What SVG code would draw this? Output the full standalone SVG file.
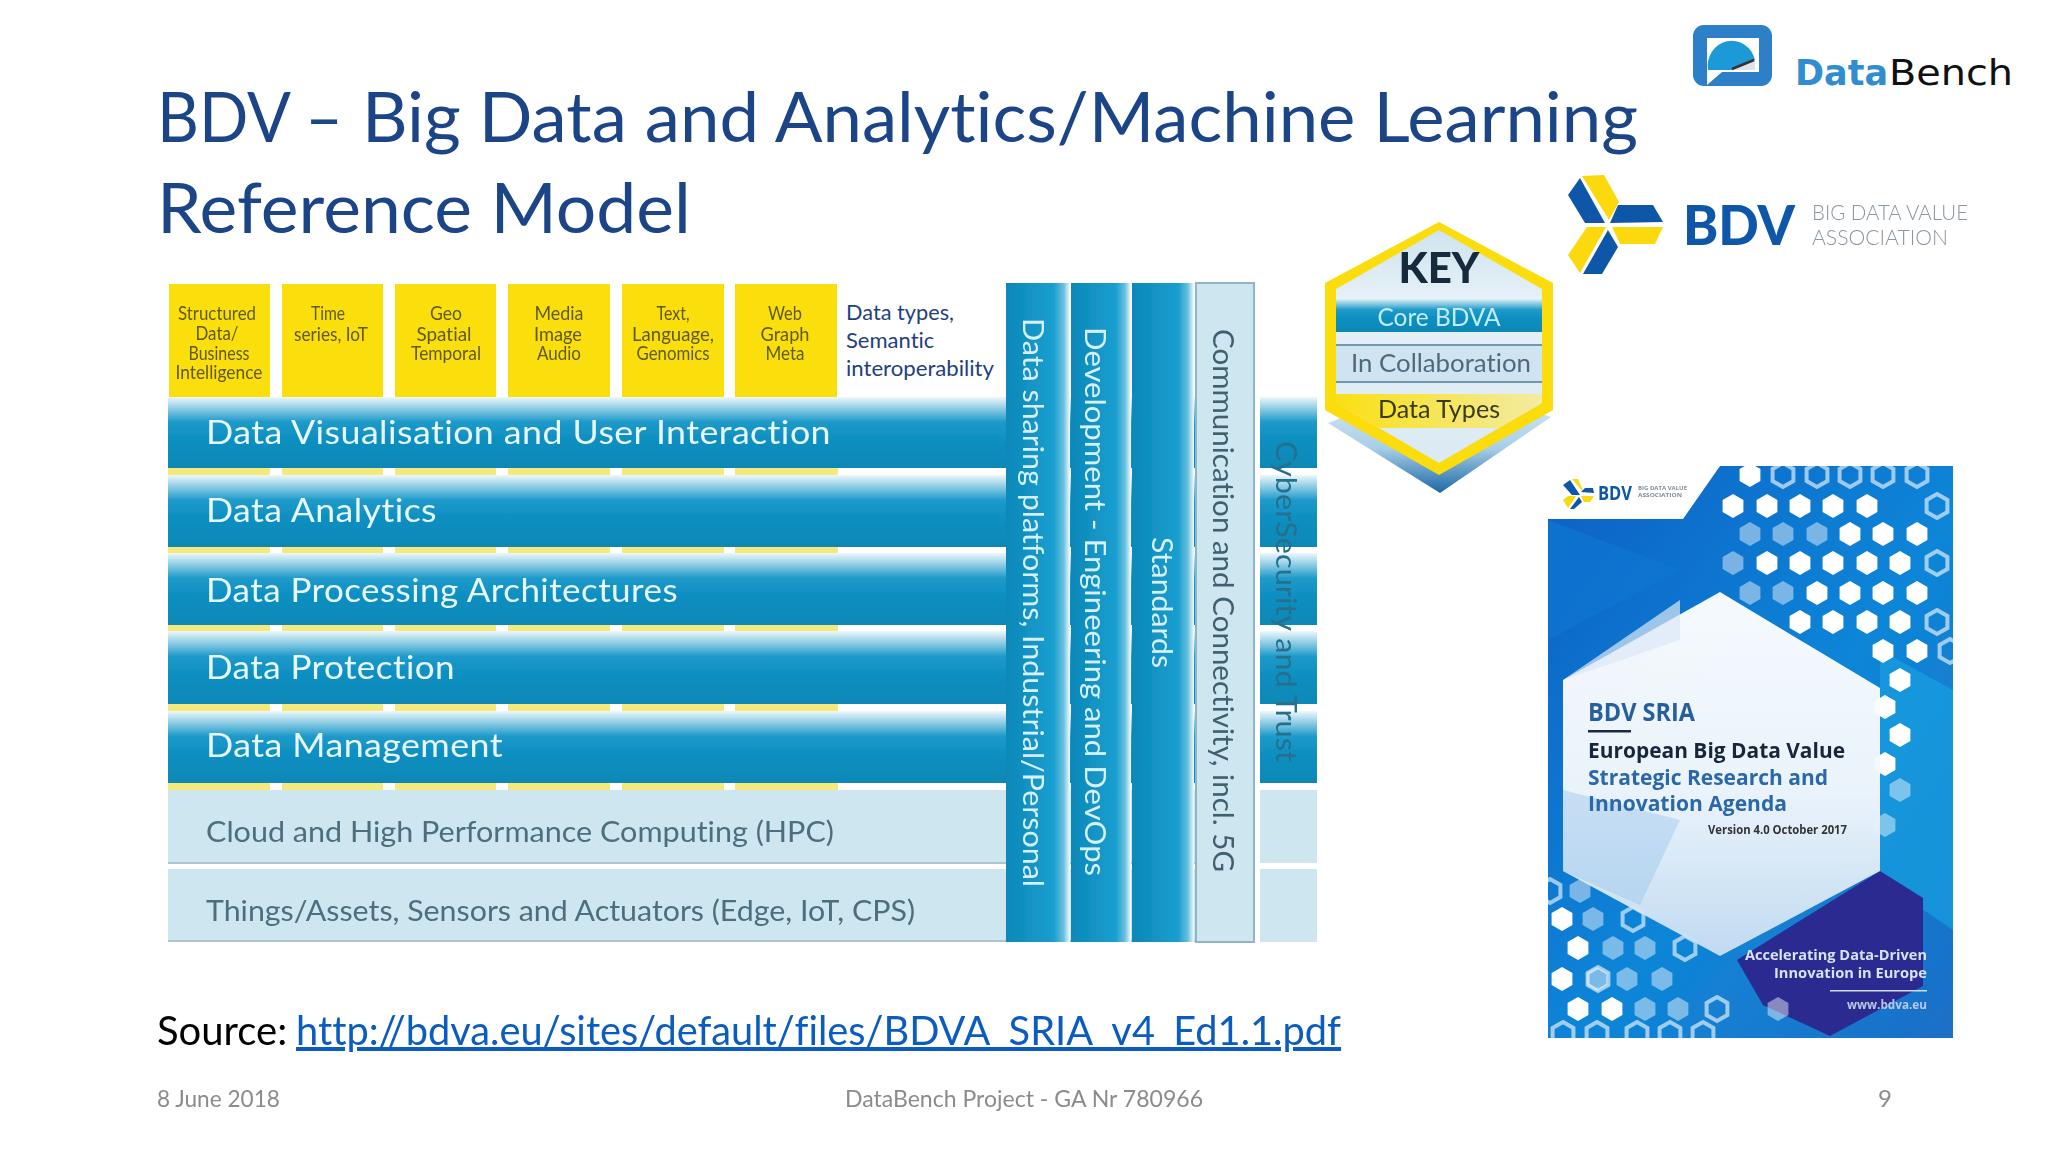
<svg xmlns="http://www.w3.org/2000/svg" width="2048" height="1152" viewBox="0 0 2048 1152">
<style>
text{font-family:"Lato","Liberation Sans",sans-serif;font-variant-ligatures:none}
.title{font-size:70px;fill:#1c4587}
.ty{font-size:19px;fill:#5f5a1c;text-anchor:middle}
.bt{font-size:33px;fill:#e8f7fb;letter-spacing:.4px}
.lt{font-size:29px;fill:#4d6e7d}
.vw{font-size:29px;fill:#d6f0f8}
.foot{font-size:24px;fill:#8b8b8b}
.note{font-size:22px;fill:#1f3f7f}
.ck{font-family:"Open Sans","Liberation Sans",sans-serif;font-weight:700}
.band{fill:url(#gBand)}
.light{fill:#cde6f0}
.col{fill:url(#gCol)}
.w{fill:#fff}
.f{fill:#fff;opacity:.45}
.r{fill:none;stroke:#fff;stroke-width:4;opacity:.6}
.soft{filter:url(#blur)}
</style>
<defs>
<filter id="blur" x="-2%" y="-2%" width="104%" height="104%"><feGaussianBlur stdDeviation="0.7"/></filter>
<linearGradient id="gBand" x1="0" y1="0" x2="0" y2="1">
<stop offset="0" stop-color="#eef8fb"/><stop offset=".35" stop-color="#1d9aca"/><stop offset=".6" stop-color="#0d8fc1"/><stop offset="1" stop-color="#0a88b6"/>
</linearGradient>
<linearGradient id="gCol" x1="0" y1="0" x2="1" y2="0">
<stop offset="0" stop-color="#0b88b8"/><stop offset=".75" stop-color="#1a9fd0"/><stop offset=".9" stop-color="#69c0de"/><stop offset="1" stop-color="#f4fbfd"/>
</linearGradient>
<linearGradient id="gKeyIn" x1="0" y1="0" x2="0" y2="1">
<stop offset="0" stop-color="#cfe3ef"/><stop offset=".3" stop-color="#e6f1f7"/><stop offset="1" stop-color="#dbeaf3"/>
</linearGradient>
<linearGradient id="gKeyShadow" x1="0" y1="0" x2="0" y2="1">
<stop offset="0" stop-color="#e9f1f6"/><stop offset=".6" stop-color="#a8cfe8"/><stop offset="1" stop-color="#1c68a6"/>
</linearGradient>
<linearGradient id="gKeyY" x1="0" y1="0" x2="1" y2="0">
<stop offset="0" stop-color="#fadf0a"/><stop offset="1" stop-color="#f2ecab"/>
</linearGradient>
<linearGradient id="gCover" x1="0" y1="0" x2="1" y2="1">
<stop offset="0" stop-color="#0c60c4"/><stop offset=".55" stop-color="#0f86d8"/><stop offset="1" stop-color="#1b6fc6"/>
</linearGradient>
<linearGradient id="gHex" x1="0" y1="0" x2="0" y2="1">
<stop offset="0" stop-color="#ffffff"/><stop offset=".55" stop-color="#f4f8fc"/><stop offset="1" stop-color="#c8def2"/>
</linearGradient>
<polygon id="hx" points="0,-12 10.4,-6 10.4,6 0,12 -10.4,6 -10.4,-6"/>
<clipPath id="cCover"><rect x="1548" y="466" width="405" height="572"/></clipPath>
<clipPath id="cKey"><polygon points="1439,230 1542,289 1542,403 1439,463 1336,403 1336,289"/></clipPath>
</defs>
<rect width="2048" height="1152" fill="#fff"/>

<g id="title">
<text class="title" x="157" y="142" textLength="186" lengthAdjust="spacingAndGlyphs">BDV –</text>
<text class="title" x="362" y="142" textLength="1276" lengthAdjust="spacingAndGlyphs">Big Data and Analytics/Machine Learning</text>
<text class="title" x="157" y="233" textLength="534" lengthAdjust="spacingAndGlyphs">Reference Model</text>
</g>

<g id="logo-databench">
<rect x="1693" y="25" width="79" height="61" rx="11" fill="#2d80c8"/>
<rect x="1707" y="38" width="52" height="34" fill="#fff"/>
<path d="M1708,70 A24,25 0 0 1 1755,60 L1732,70 Z" fill="#1c9ad8"/>
<path d="M1732,70 L1755,60 L1755,70 Z" fill="#dfe3e6"/>
<path d="M1732,69 L1754,60" stroke="#333" stroke-width="2.5" fill="none"/>
<path d="M1707,85 L1707,70 L1722,72 Z" fill="#fff"/>
<text x="1795" y="85" font-size="36" font-weight="700" fill="#2f8dd0" style="font-family:'DejaVu Sans',sans-serif" textLength="93" lengthAdjust="spacingAndGlyphs">Data</text>
<text x="1889" y="85" font-size="36" fill="#111" style="font-family:'DejaVu Sans',sans-serif" textLength="124" lengthAdjust="spacingAndGlyphs">Bench</text>
</g>

<g id="logo-bdv" class="soft">
<polygon points="1568,195 1580,178 1605,223 1585,223" fill="#0b56a8"/>
<polygon points="1582,176 1604,175 1619,202 1609,220" fill="#fbd90a"/>
<polygon points="1610,223 1618,205 1653,205 1663,222" fill="#0b56a8"/>
<polygon points="1612,227 1663,227 1655,244 1620,244" fill="#fbd90a"/>
<polygon points="1608,230 1618,247 1602,274 1583,274" fill="#0b56a8"/>
<polygon points="1606,227 1580,273 1568,255 1587,227" fill="#fbd90a"/>
<text x="1683" y="245" font-size="56" font-weight="900" fill="#0b56a8" textLength="112" lengthAdjust="spacingAndGlyphs">BDV</text>
<text x="1812" y="220" font-size="21" fill="#8a96a0" font-weight="300" textLength="156" lengthAdjust="spacingAndGlyphs">BIG DATA VALUE</text>
<text x="1812" y="245" font-size="21" fill="#8a96a0" font-weight="300" textLength="136" lengthAdjust="spacingAndGlyphs">ASSOCIATION</text>
</g>

<g id="data-types">
<g class="soft">
<g fill="#fbdf0c">
<rect x="169" y="284" width="101" height="113"/>
<rect x="282" y="284" width="101" height="113"/>
<rect x="395" y="284" width="101" height="113"/>
<rect x="508" y="284" width="102" height="113"/>
<rect x="622" y="284" width="102" height="113"/>
<rect x="735" y="284" width="102" height="113"/>
</g>
<g fill="#f6e97c">
<rect x="168" y="467" width="670" height="9"/>
<rect x="168" y="546" width="670" height="8"/>
<rect x="168" y="624" width="670" height="8"/>
<rect x="168" y="703" width="670" height="9"/>
<rect x="168" y="782" width="670" height="8"/>
</g>
<g fill="#fff">
<rect x="270" y="467" width="12" height="323"/>
<rect x="383" y="467" width="12" height="323"/>
<rect x="496" y="467" width="12" height="323"/>
<rect x="610" y="467" width="12" height="323"/>
<rect x="724" y="467" width="11" height="323"/>
</g>
<g id="type-structured"><text class="ty" x="217" y="320" textLength="78" lengthAdjust="spacingAndGlyphs">Structured</text><text class="ty" x="217" y="340" textLength="43" lengthAdjust="spacingAndGlyphs">Data/</text><text class="ty" x="219" y="360" textLength="61" lengthAdjust="spacingAndGlyphs">Business</text><text class="ty" x="219" y="379" textLength="87" lengthAdjust="spacingAndGlyphs">Intelligence</text></g>
<g id="type-time"><text class="ty" x="328" y="320" textLength="34" lengthAdjust="spacingAndGlyphs">Time</text><text class="ty" x="331" y="341" textLength="74" lengthAdjust="spacingAndGlyphs">series, IoT</text></g>
<g id="type-geo"><text class="ty" x="446" y="320" textLength="32" lengthAdjust="spacingAndGlyphs">Geo</text><text class="ty" x="444" y="341" textLength="55" lengthAdjust="spacingAndGlyphs">Spatial</text><text class="ty" x="446" y="360" textLength="70" lengthAdjust="spacingAndGlyphs">Temporal</text></g>
<g id="type-media"><text class="ty" x="559" y="320" textLength="49" lengthAdjust="spacingAndGlyphs">Media</text><text class="ty" x="558" y="341" textLength="48" lengthAdjust="spacingAndGlyphs">Image</text><text class="ty" x="559" y="360" textLength="44" lengthAdjust="spacingAndGlyphs">Audio</text></g>
<g id="type-text"><text class="ty" x="673" y="320" textLength="33" lengthAdjust="spacingAndGlyphs">Text,</text><text class="ty" x="673" y="341" textLength="82" lengthAdjust="spacingAndGlyphs">Language,</text><text class="ty" x="673" y="360" textLength="73" lengthAdjust="spacingAndGlyphs">Genomics</text></g>
<g id="type-web"><text class="ty" x="785" y="320" textLength="34" lengthAdjust="spacingAndGlyphs">Web</text><text class="ty" x="785" y="341" textLength="49" lengthAdjust="spacingAndGlyphs">Graph</text><text class="ty" x="785" y="360" textLength="39" lengthAdjust="spacingAndGlyphs">Meta</text></g>
</g>
<text class="note" x="846" y="320" textLength="108" lengthAdjust="spacingAndGlyphs">Data types,</text>
<text class="note" x="846" y="348">Semantic</text>
<text class="note" x="846" y="376" textLength="148" lengthAdjust="spacingAndGlyphs">interoperability</text>
</g>

<g id="layers" class="soft">
<g id="layer-visualisation"><rect class="band" x="168" y="397" width="1086" height="71"/><text class="bt" x="206" y="444" textLength="625" lengthAdjust="spacingAndGlyphs">Data Visualisation and User Interaction</text></g>
<g id="layer-analytics"><rect class="band" x="168" y="475" width="1086" height="72"/><text class="bt" x="206" y="522" textLength="231" lengthAdjust="spacingAndGlyphs">Data Analytics</text></g>
<g id="layer-processing"><rect class="band" x="168" y="553" width="1086" height="72"/><text class="bt" x="206" y="602" textLength="472" lengthAdjust="spacingAndGlyphs">Data Processing Architectures</text></g>
<g id="layer-protection"><rect class="band" x="168" y="631" width="1086" height="73"/><text class="bt" x="206" y="679" textLength="249" lengthAdjust="spacingAndGlyphs">Data Protection</text></g>
<g id="layer-management"><rect class="band" x="168" y="711" width="1086" height="72"/><text class="bt" x="206" y="757" textLength="297" lengthAdjust="spacingAndGlyphs">Data Management</text></g>
<g id="layer-cloud"><rect class="light" x="168" y="790" width="1086" height="73"/><rect x="168" y="862" width="1086" height="2" fill="#a9c6d2"/><text class="lt" x="206" y="842" textLength="628" lengthAdjust="spacingAndGlyphs">Cloud and High Performance Computing (HPC)</text></g>
<g id="layer-things"><rect class="light" x="168" y="869" width="1086" height="73"/><rect x="168" y="940" width="1086" height="2" fill="#a9c6d2"/><text class="lt" x="206" y="921" textLength="709" lengthAdjust="spacingAndGlyphs">Things/Assets, Sensors and Actuators (Edge, IoT, CPS)</text></g>
</g>

<g id="cyber-stub" class="soft">
<rect class="band" x="1260" y="397" width="57" height="71"/>
<rect class="band" x="1260" y="475" width="57" height="72"/>
<rect class="band" x="1260" y="553" width="57" height="72"/>
<rect class="band" x="1260" y="631" width="57" height="73"/>
<rect class="band" x="1260" y="711" width="57" height="72"/>
<rect class="light" x="1260" y="790" width="57" height="73"/>
<rect class="light" x="1260" y="869" width="57" height="73"/>
<text font-size="29" fill="#276f8e" transform="translate(1276,441) rotate(90)" textLength="321" lengthAdjust="spacingAndGlyphs">CyberSecurity  and  Trust</text>
</g>

<g id="columns" class="soft">
<g id="col-sharing"><rect class="col" x="1006" y="283" width="64" height="659"/><text class="vw" transform="translate(1023,318) rotate(90)" textLength="569" lengthAdjust="spacingAndGlyphs">Data sharing platforms, Industrial/Personal</text></g>
<g id="col-devops"><rect class="col" x="1071" y="283" width="60" height="659"/><text class="vw" transform="translate(1085,327) rotate(90)" textLength="549" lengthAdjust="spacingAndGlyphs">Development - Engineering and DevOps</text></g>
<g id="col-standards"><rect class="col" x="1132" y="283" width="62" height="659"/><text class="vw" transform="translate(1152,537) rotate(90)" textLength="131" lengthAdjust="spacingAndGlyphs">Standards</text></g>
<g id="col-comm"><rect x="1196" y="283" width="58" height="659" fill="#cde6f0" stroke="#8fb6c8" stroke-width="2"/><text font-size="29" fill="#3f5f6f" transform="translate(1213,329) rotate(90)" textLength="543" lengthAdjust="spacingAndGlyphs">Communication and Connectivity, incl. 5G</text></g>
</g>

<g id="key" class="soft">
<polygon points="1328,423 1439,380 1551,417 1440,493" fill="url(#gKeyShadow)"/>
<polygon points="1439,222 1553,283 1553,410 1439,475 1325,410 1325,283" fill="#fbdc0a"/>
<polygon points="1439,230 1542,289 1542,403 1439,463 1336,403 1336,289" fill="url(#gKeyIn)"/>
<g clip-path="url(#cKey)">
<rect x="1336" y="298" width="206" height="34" fill="url(#gBand)"/>
<rect x="1336" y="345" width="206" height="37" fill="#cfe4f0"/>
<rect x="1336" y="344" width="206" height="2" fill="#6f97ad"/>
<rect x="1336" y="381" width="206" height="2" fill="#6f97ad"/>
<rect x="1325" y="394" width="228" height="34" fill="url(#gKeyY)"/>
</g>
<text x="1439" y="283" font-size="42" font-weight="900" fill="#12293a" text-anchor="middle">KEY</text>
<text x="1439" y="326" font-size="25" fill="#c3edf6" text-anchor="middle" textLength="123" lengthAdjust="spacingAndGlyphs">Core BDVA</text>
<text x="1441" y="372" font-size="25" fill="#4d6b7c" text-anchor="middle" textLength="180" lengthAdjust="spacingAndGlyphs">In Collaboration</text>
<text x="1439" y="418" font-size="25" fill="#3a3a1a" text-anchor="middle" textLength="122" lengthAdjust="spacingAndGlyphs">Data Types</text>
</g>

<g id="cover">
<g clip-path="url(#cCover)">
<g class="soft">
<rect x="1548" y="466" width="405" height="572" fill="url(#gCover)"/>
<polygon points="1548,520 1680,570 1548,640" fill="#0d76d2" opacity=".7"/>
<polygon points="1880,650 1953,690 1953,930 1880,880" fill="#14a0e0" opacity=".7"/>
<polygon points="1880,871 1923,898 1923,986 1830,1036 1763,1005 1737,960" fill="#2a2a90"/>
<g class="w">
<use href="#hx" x="1750" y="475"/><use href="#hx" x="1733" y="506"/><use href="#hx" x="1767" y="506"/><use href="#hx" x="1800" y="506"/><use href="#hx" x="1833" y="506"/><use href="#hx" x="1867" y="506"/>
<use href="#hx" x="1850" y="534"/><use href="#hx" x="1883" y="534"/><use href="#hx" x="1917" y="534"/>
<use href="#hx" x="1767" y="563"/><use href="#hx" x="1800" y="563"/><use href="#hx" x="1833" y="563"/><use href="#hx" x="1867" y="563"/><use href="#hx" x="1900" y="563"/>
<use href="#hx" x="1817" y="593"/><use href="#hx" x="1850" y="593"/><use href="#hx" x="1883" y="593"/><use href="#hx" x="1917" y="593"/>
<use href="#hx" x="1800" y="622"/><use href="#hx" x="1833" y="622"/><use href="#hx" x="1867" y="622"/><use href="#hx" x="1900" y="622"/>
<use href="#hx" x="1883" y="651"/><use href="#hx" x="1917" y="651"/><use href="#hx" x="1900" y="680"/><use href="#hx" x="1885" y="707"/><use href="#hx" x="1900" y="735"/><use href="#hx" x="1885" y="764"/>
<use href="#hx" x="1562" y="919"/><use href="#hx" x="1578" y="948"/><use href="#hx" x="1562" y="979"/><use href="#hx" x="1612" y="1009"/><use href="#hx" x="1578" y="1009"/>
</g>
<g class="f">
<use href="#hx" x="1783" y="534"/><use href="#hx" x="1750" y="534"/><use href="#hx" x="1817" y="534"/><use href="#hx" x="1733" y="563"/><use href="#hx" x="1750" y="593"/><use href="#hx" x="1783" y="593"/>
<use href="#hx" x="1580" y="891"/><use href="#hx" x="1593" y="919"/><use href="#hx" x="1645" y="948"/><use href="#hx" x="1613" y="948"/><use href="#hx" x="1597" y="979"/><use href="#hx" x="1627" y="979"/><use href="#hx" x="1662" y="979"/><use href="#hx" x="1645" y="1009"/><use href="#hx" x="1678" y="1009"/><use href="#hx" x="1778" y="1009"/>
<use href="#hx" x="1900" y="790"/><use href="#hx" x="1885" y="825"/>
</g>
<g class="r">
<use href="#hx" x="1783" y="475"/><use href="#hx" x="1817" y="475"/><use href="#hx" x="1850" y="475"/><use href="#hx" x="1883" y="475"/><use href="#hx" x="1917" y="475"/><use href="#hx" x="1937" y="506"/>
<use href="#hx" x="1937" y="563"/><use href="#hx" x="1937" y="622"/><use href="#hx" x="1950" y="651"/>
<use href="#hx" x="1550" y="891"/><use href="#hx" x="1633" y="919"/><use href="#hx" x="1685" y="948"/><use href="#hx" x="1598" y="979"/><use href="#hx" x="1717" y="1009"/><use href="#hx" x="1563" y="1034"/><use href="#hx" x="1597" y="1034"/><use href="#hx" x="1637" y="1034"/><use href="#hx" x="1670" y="1034"/><use href="#hx" x="1703" y="1034"/>
</g>
<polygon points="1720,592 1880,688 1880,871 1720,956 1563,871 1563,680" fill="url(#gHex)" opacity=".96"/>
<polygon points="1563,790 1680,820 1640,905 1563,871" fill="#9cc6ea" opacity=".45"/>
<polygon points="1563,680 1680,640 1680,600" fill="#dbe8f6" opacity=".7"/>
<polygon points="1548,466 1720,466 1683,519 1548,519" fill="#fff"/>
<polygon points="1563,485 1570,480 1580,495 1572,495" fill="#0b56a8"/>
<polygon points="1572,479 1578,479 1584,493" fill="#fbd90a"/>
<polygon points="1581,492 1585,488 1593,488 1594,493" fill="#0b56a8"/>
<polygon points="1581,496 1594,496 1590,502 1584,502" fill="#fbd90a"/>
<polygon points="1579,497 1582,502 1574,509 1570,509" fill="#0b56a8"/>
<polygon points="1576,496 1568,508 1563,500 1568,496" fill="#fbd90a"/>
<text class="ck" x="1598" y="500" font-size="19" fill="#0b56a8" textLength="34" lengthAdjust="spacingAndGlyphs">BDV</text>
<text class="ck" x="1638" y="490" font-size="5.5" fill="#7f8c96" font-weight="400" textLength="49" lengthAdjust="spacingAndGlyphs">BIG DATA VALUE</text>
<text class="ck" x="1638" y="497" font-size="5.5" fill="#7f8c96" font-weight="400" textLength="44" lengthAdjust="spacingAndGlyphs">ASSOCIATION</text>
<text class="ck" x="1588" y="721" font-size="25" fill="#275f9a" textLength="107" lengthAdjust="spacingAndGlyphs">BDV SRIA</text>
<rect x="1588" y="730" width="43" height="2.5" fill="#1c2b3a"/>
<text class="ck" x="1588" y="758" font-size="21" fill="#16283a" textLength="257" lengthAdjust="spacingAndGlyphs">European Big Data Value</text>
<text class="ck" x="1588" y="785" font-size="21" fill="#2c67a8" textLength="240" lengthAdjust="spacingAndGlyphs">Strategic Research and</text>
<text class="ck" x="1588" y="811" font-size="21" fill="#2c67a8" textLength="199" lengthAdjust="spacingAndGlyphs">Innovation Agenda</text>
<text class="ck" x="1708" y="834" font-size="12" font-weight="400" fill="#333" textLength="139" lengthAdjust="spacingAndGlyphs">Version 4.0 October 2017</text>
<text class="ck" x="1745" y="960" font-size="15" fill="#d5e3f4" textLength="182" lengthAdjust="spacingAndGlyphs">Accelerating Data-Driven</text>
<text class="ck" x="1774" y="978" font-size="15" fill="#d5e3f4" textLength="153" lengthAdjust="spacingAndGlyphs">Innovation in Europe</text>
<rect x="1830" y="990" width="97" height="1.5" fill="#cfdcf0"/>
<text class="ck" x="1847" y="1009" font-size="13" font-weight="400" fill="#b7c9e6" textLength="80" lengthAdjust="spacingAndGlyphs">www.bdva.eu</text>
</g>
</g>
</g>

<g id="source">
<text x="157" y="1045" font-size="40" fill="#000">Source: </text>
<text x="296" y="1045" font-size="40" fill="#0b5cc0" text-decoration="underline" textLength="1045" lengthAdjust="spacingAndGlyphs">http://bdva.eu/sites/default/files/BDVA_SRIA_v4_Ed1.1.pdf</text>
</g>
<g id="footer">
<text class="foot" x="157" y="1107" textLength="123" lengthAdjust="spacingAndGlyphs">8 June 2018</text>
<text class="foot" x="845" y="1107" textLength="358" lengthAdjust="spacingAndGlyphs">DataBench Project - GA Nr 780966</text>
<text class="foot" x="1878" y="1107">9</text>
</g>
</svg>
